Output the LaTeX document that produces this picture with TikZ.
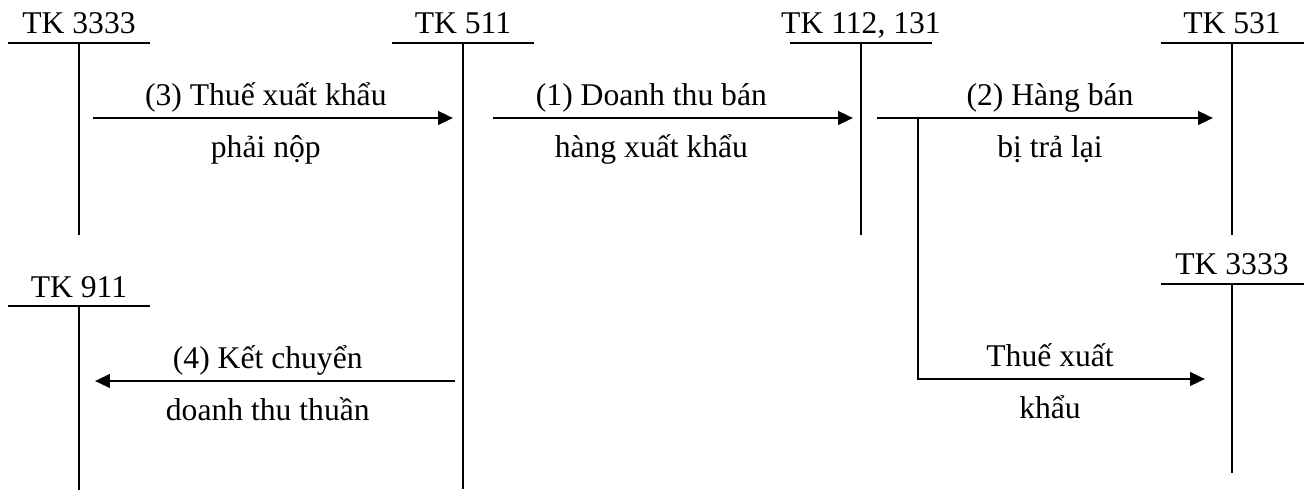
\documentclass[tikz,border=0pt]{standalone}
\usepackage{fontspec}
\setmainfont{Liberation Serif}
\usetikzlibrary{arrows.meta}

\begin{document}
\begin{tikzpicture}[
  x=0.02cm, y=-0.02cm,
  font=\fontsize{18}{21}\selectfont,
  account/.style={inner sep=0pt,anchor=base,text depth=0.18cm},
  tline/.style={line width=1.1pt},
  flow/.style={-{Triangle[length=0.3cm,width=0.27cm]},line width=1.6pt},
  upper/.style={anchor=base,inner sep=0pt,yshift=0.26cm},
  lower/.style={anchor=base,inner sep=0pt,yshift=-0.8cm}
]
  \useasboundingbox (0,0) rectangle (1311,493);

  % T-accounts
  \node[account] (t3333) at (79,34) {TK 3333};
  \node[account] (t511) at (463,34) {TK 511};
  \node[account] (t112) at (861,34) {TK 112, 131};
  \node[account] (t531) at (1232,34) {TK 531};
  \node[account] (t3333b) at (1232,275) {TK 3333};
  \node[account] (t911) at (79,297) {TK 911};

  \coordinate (b3333) at (79,235);
  \coordinate (b511) at (463,489);
  \coordinate (b112) at (861,235);
  \coordinate (b531) at (1232,235);
  \coordinate (b3333b) at (1232,473);
  \coordinate (b911) at (79,490);

  \foreach \acc in {3333,511,112,531,3333b,911}{
    \draw[tline] ([xshift=-1.43cm]t\acc.south) -- ([xshift=1.43cm]t\acc.south);
    \draw[tline] (t\acc.south) -- (b\acc);
  }

  % entries
  \coordinate (s3) at (93,118);
  \coordinate (e3) at (453,118);
  \coordinate (s1) at (493,118);
  \coordinate (e1) at (853,118);
  \coordinate (s2) at (877,118);
  \coordinate (e2) at (1213,118);
  \coordinate (br) at (918,118);
  \coordinate (e5) at (1205,379);
  \coordinate (s4) at (455,381);
  \coordinate (e4) at (95,381);

  \draw[flow] (s3) -- node[upper,pos=.48] {(3) Thuế xuất khẩu}
    node[lower,pos=.48] {phải nộp} (e3);
  \draw[flow] (s1) -- node[upper,pos=.44] {(1) Doanh thu bán}
    node[lower,pos=.44] {hàng xuất khẩu} (e1);
  \draw[flow] (s2) -- node[upper,pos=.515] {(2) Hàng bán}
    node[lower,pos=.515] {bị trả lại} (e2);
  \draw[flow] (br) |- node[upper,pos=.73] {Thuế xuất}
    node[lower,pos=.73] {khẩu} (e5);
  \draw[flow] (s4) -- node[upper,pos=.52] {(4) Kết chuyển}
    node[lower,pos=.52] {doanh thu thuần} (e4);
\end{tikzpicture}
\end{document}
